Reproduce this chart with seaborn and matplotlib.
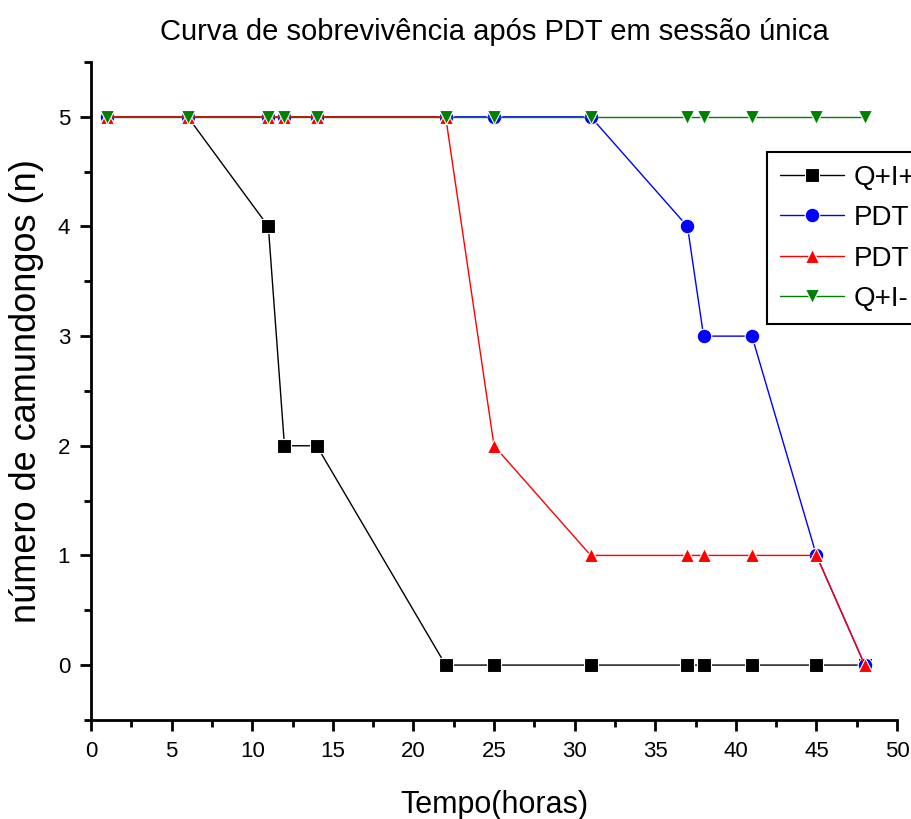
import pandas as pd
import matplotlib.pyplot as plt
import seaborn as sns

tempo = [1, 6, 11, 12, 14, 22, 25, 31, 37, 38, 41, 45, 48]
qi_mais = [5, 5, 4, 2, 2, 0, 0, 0, 0, 0, 0, 0, 0]
pdt_a = [5, 5, 5, 5, 5, 5, 5, 5, 4, 3, 3, 1, 0]
pdt_b = [5, 5, 5, 5, 5, 5, 2, 1, 1, 1, 1, 1, 0]
qi_menos = [5, 5, 5, 5, 5, 5, 5, 5, 5, 5, 5, 5, 5]

labels = ["Q+I+", "PDT", "PDT", "Q+I-"]
cores = ["black", "blue", "red", "green"]
marcadores = ["s", "o", "^", "v"]

sns.set_style("ticks")
plt.rcParams['font.family'] = ['Liberation Sans', 'DejaVu Sans']
for k in ["text.color", "axes.labelcolor", "xtick.color", "ytick.color", "axes.edgecolor"]:
    plt.rcParams[k] = "black"

fig = plt.figure(figsize=(9.12, 8.19), dpi=100)
ax = fig.add_axes([0.0998, 0.121, 0.8838, 0.8033])

for ys, lab, c, m in zip([qi_mais, pdt_a, pdt_b, qi_menos], labels, cores, marcadores):
    df = pd.DataFrame({"t": tempo, "n": ys})
    sns.lineplot(data=df, x="t", y="n", ax=ax, color=c, marker=m, markersize=10.5,
                 markeredgecolor="white", markeredgewidth=0.8, linewidth=1,
                 label=lab, clip_on=False)

ax.set_xlim(0, 50)
ax.set_ylim(-0.5, 5.5)
ax.set_xticks(range(0, 51, 5))
ax.set_xticks([x + 2.5 for x in range(0, 50, 5)], minor=True)
ax.set_yticks(range(0, 6))
ax.set_yticks([y + 0.5 for y in range(-1, 6)], minor=True)
ax.tick_params(which="major", direction="out", length=8, width=2, labelsize=16, pad=7)
ax.tick_params(which="minor", direction="out", length=5, width=2)
for s in ["left", "bottom"]:
    ax.spines[s].set_linewidth(2)
sns.despine(ax=ax)

ax.set_xlabel("Tempo(horas)", fontsize=22, labelpad=20)
ax.set_ylabel("número de camundongos (n)", fontsize=26, labelpad=10)
ax.set_title("Curva de sobrevivência após PDT em sessão única", fontsize=21, pad=16)

leg = ax.legend(loc="upper left", bbox_to_anchor=(0.839, 0.863), fontsize=20,
                frameon=True, fancybox=False, edgecolor="black", framealpha=1,
                handlelength=2.3, borderpad=0.45, labelspacing=0.52, handletextpad=0.35,
                borderaxespad=0)
leg.get_frame().set_linewidth(1.5)

fig.savefig("out.png", dpi=100)
